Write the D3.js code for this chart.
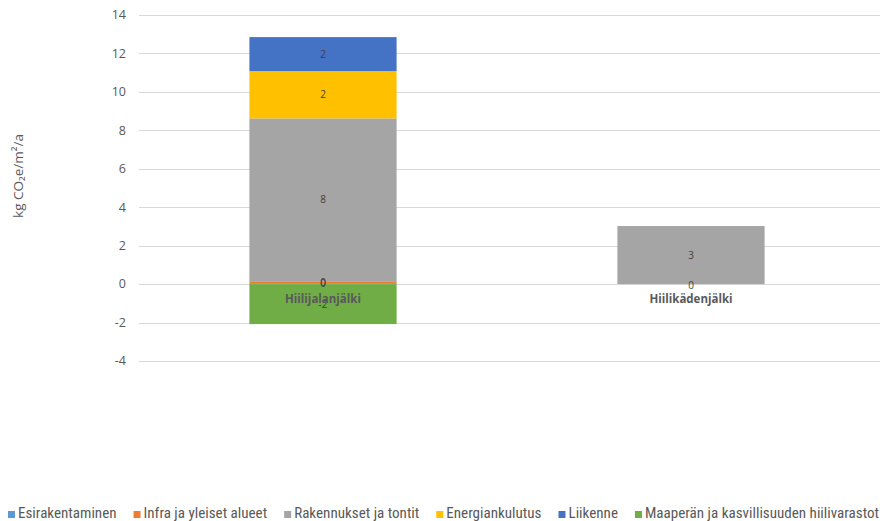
<!DOCTYPE html>
<html><head><meta charset="utf-8">
<script src="https://cdn.jsdelivr.net/npm/d3@7"></script>
<style>body{margin:0;background:#fff}svg{display:block}</style>
</head><body>
<svg id="c" width="884" height="521"></svg>
<script>
const categories = ["Hiilijalanjälki", "Hiilikädenjälki"];
const seriesNames = ["Esirakentaminen", "Infra ja yleiset alueet", "Rakennukset ja tontit", "Energiankulutus", "Liikenne", "Maaperän ja kasvillisuuden hiilivarastot"];
const seriesColors = ["#5B9BD5", "#ED7D31", "#A5A5A5", "#FFC000", "#4472C4", "#70AD47"];
const esirakentaminen = [0.05, 0];
const infra = [0.1, null];
const rakennukset = [8.47, 3.02];
const energiankulutus = [2.46, null];
const liikenne = [1.77, null];
const maapera = [-2.08, null];
const yTicks = [-4, -2, 0, 2, 4, 6, 8, 10, 12, 14];
const yTitle = "kg CO₂e/m²/a";

(function () {
const seriesValues = [esirakentaminen, infra, rakennukset, energiankulutus, liikenne, maapera];
const rows = categories.map((c, i) => {
  const r = {cat: c};
  seriesNames.forEach((s, j) => r[s] = seriesValues[j][i]);
  return r;
});

const svg = d3.select("#c");
const pl = 139, pr = 875, pt = 15, pb = 361;
const y = d3.scaleLinear().domain([-4, 14]).range([pb, pt]);
const x = d3.scaleBand().domain(categories).range([pl, pr]).paddingInner(0.6).paddingOuter(0.3);

svg.append("g").selectAll("line").data(yTicks).join("line")
  .attr("x1", pl).attr("x2", 880)
  .attr("y1", d => Math.round(y(d)) + 0.5).attr("y2", d => Math.round(y(d)) + 0.5)
  .attr("stroke", "#D9D9D9").attr("stroke-width", 1);

svg.append("g").selectAll("text").data(yTicks).join("text")
  .attr("x", 126).attr("y", d => y(d)).attr("dy", "0.35em")
  .attr("text-anchor", "end").attr("font-family", "'Open Sans', sans-serif")
  .attr("font-size", 12.5).attr("fill", "#595959").text(d => d);

svg.append("text").attr("transform", `translate(23,${(pt + pb) / 2 - 12}) rotate(-90)`)
  .attr("text-anchor", "middle").attr("font-family", "'Open Sans', sans-serif")
  .attr("font-size", 13.5).attr("fill", "#595959").text(yTitle);

const stack = d3.stack().keys(seriesNames)
  .value((d, k) => d[k] == null ? 0 : d[k])
  .offset(d3.stackOffsetDiverging);
const stacked = stack(rows);

const bw = x.bandwidth();
const gBars = svg.append("g");
stacked.forEach((layer, j) => {
  gBars.append("g").attr("fill", seriesColors[j]).selectAll("rect").data(layer).join("rect")
    .attr("x", d => x(d.data.cat)).attr("width", bw)
    .attr("y", d => y(Math.max(d[0], d[1])))
    .attr("height", d => Math.abs(y(d[0]) - y(d[1])));
});

const gLab = svg.append("g");
stacked.forEach((layer, j) => {
  gLab.append("g").selectAll("text").data(layer.filter(d => d.data[seriesNames[j]] != null)).join("text")
    .attr("x", d => x(d.data.cat) + bw / 2)
    .attr("y", d => y((d[0] + d[1]) / 2) + (d[0] === d[1] ? 1 : 0)).attr("dy", "0.35em")
    .attr("text-anchor", "middle").attr("font-family", "'Open Sans', sans-serif")
    .attr("font-size", 10).attr("fill", "#404040")
    .text(d => Math.round(d.data[seriesNames[j]]));
});

svg.append("g").selectAll("text").data(categories).join("text")
  .attr("x", d => x(d) + bw / 2).attr("y", y(0) + 19)
  .attr("text-anchor", "middle").attr("font-family", "'Open Sans', sans-serif")
  .attr("font-weight", "bold").attr("font-size", 11.5).attr("fill", "#595959").text(d => d);

const leg = svg.append("g");
const items = leg.selectAll("g").data(seriesNames).join("g");
items.append("rect").attr("width", 7).attr("height", 7).attr("y", -7)
  .attr("fill", (d, i) => seriesColors[i]);
const texts = items.append("text").attr("x", 10).attr("y", 0)
  .attr("font-family", "'Liberation Sans Narrow', 'Roboto Condensed', sans-serif")
  .attr("font-size", 13).attr("fill", "#595959").text(d => d);
const startX = 8, endX = 880, gap = 17;
const base = d3.sum(texts.nodes(), n => n.getComputedTextLength());
const avail = endX - startX - seriesNames.length * 10 - (seriesNames.length - 1) * gap;
const fs = 13 * avail / base;
texts.attr("font-size", fs);
const widths = texts.nodes().map(n => 10 + n.getComputedTextLength());
let cx = startX;
items.attr("transform", (d, i) => { const t = `translate(${cx},518)`; cx += widths[i] + gap; return t; });
})();
</script>
</body></html>
